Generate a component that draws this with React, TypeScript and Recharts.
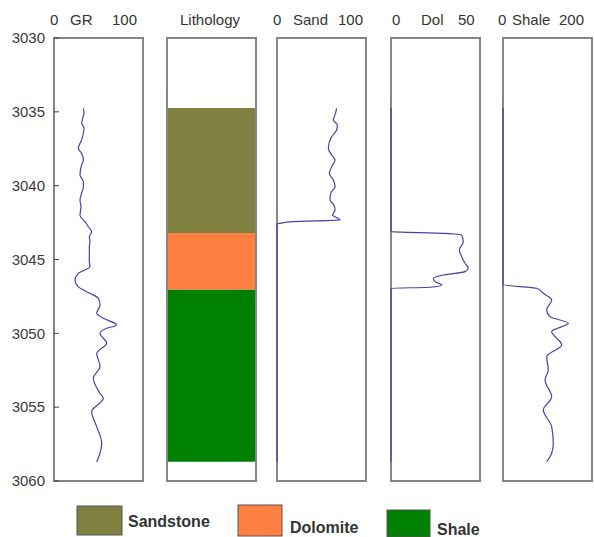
import React from 'react';
import { LineChart, Line, XAxis, YAxis, ReferenceArea } from 'recharts';

// ---- Depth axis (m) ----
const depthRange = [3030, 3060];
const depthTicks = [3030, 3035, 3040, 3045, 3050, 3055, 3060];

// ---- Gamma ray (API) ----
const grDepth = [
  3034.76, 3035.1, 3035.44, 3035.78, 3036.1, 3036.45, 3036.9, 3037.47, 3037.8, 3038.26,
  3038.6, 3039.28, 3039.73, 3040.07, 3040.52, 3040.97, 3041.42, 3042.0, 3042.44, 3042.78,
  3043.12, 3043.46, 3043.8, 3044.13, 3045.15, 3045.49, 3045.71, 3045.94, 3046.39, 3046.84,
  3047.29, 3047.63, 3048.08, 3048.64, 3048.98, 3049.43, 3049.66, 3050.0, 3050.67, 3051.35,
  3052.25, 3053.04, 3054.06, 3054.4, 3055.3, 3056.32, 3057.45, 3058.12, 3058.69,
];
const grValue = [
  33, 33.7, 32.2, 31.1, 33.7, 33, 31, 27.3, 31, 33,
  31, 29.2, 33, 33, 31, 29.2, 30.3, 29.2, 34.8, 38.6,
  42.3, 39.7, 40.4, 39.7, 39.7, 40.4, 34.8, 27.3, 23.6, 27,
  40.4, 49.8, 51.7, 48, 55.4, 70.4, 59.2, 51.7, 59.2, 48,
  51.7, 44.2, 51.7, 55.4, 42.3, 48, 53.6, 51.7, 48,
];

// ---- Sand volume ----
const sandDepth = [
  3034.76, 3035.21, 3035.55, 3035.89, 3036.23, 3036.68, 3037.47, 3037.92, 3038.26, 3038.71,
  3039.16, 3039.62, 3040.07, 3040.52, 3040.97, 3041.31, 3041.65, 3041.99, 3042.32, 3042.44,
  3042.55, 3042.6, 3058.7,
];
const sandValue = [
  67, 65.2, 63.3, 67.8, 67, 61.4, 57.7, 61.4, 65.2, 61.4,
  58.8, 63.3, 65.2, 60.3, 59.6, 64, 65.2, 62.5, 70.8, 18.4,
  3.4, 0, 0,
];

// ---- Dolomite volume ----
const dolDepth = [
  3034.74, 3043.12, 3043.23, 3043.34, 3043.79, 3044.36, 3044.81, 3045.25, 3045.59, 3045.82,
  3046.05, 3046.27, 3046.5, 3046.72, 3046.88, 3046.95, 3058.7,
];
const dolValue = [
  0, 0, 30.3, 39.7, 40.6, 38.4, 39.7, 41.6, 43.4, 41.6,
  29.4, 23.8, 24.7, 28.5, 21.9, 0, 0,
];

// ---- Shale volume ----
const shaleDepth = [
  3034.74, 3046.7, 3046.95, 3047.29, 3047.74, 3048.42, 3048.87, 3049.32, 3049.88, 3050.79,
  3051.58, 3052.48, 3053.16, 3054.29, 3055.19, 3056.32, 3057.45, 3058.12, 3058.69,
];
const shaleValue = [
  0, 0, 75.7, 90.6, 109.4, 98.2, 105.6, 146.8, 109.4, 131.9,
  98.2, 101.8, 94.4, 109.4, 90.6, 109.4, 113, 109.4, 98.2,
];

// ---- Lithology column ----
const lithNames = ['Sandstone', 'Dolomite', 'Shale'];
const lithTop = [3034.74, 3043.2, 3047.05];
const lithBase = [3043.2, 3047.05, 3058.7];

// ---- Track scales ----
const trackNames = ['GR', 'Lithology', 'Sand', 'Dol', 'Shale'];
const trackMax = [100, 1, 100, 50, 200];

// ---- Styling ----
const FONT = '"Liberation Sans", Arial, Helvetica, sans-serif';
const LITH_COLORS: Record<string, string> = {
  Sandstone: '#808040',
  Dolomite: '#ff8040',
  Shale: '#008000',
};
const CURVE = '#4444ae';
const FRAME = '#858585';
const BOX_TOP = 38;
const BOX_H = 443;
const BOX_W = 89;
const PAD = 3;
const PADV = 12;
const TRACK_LEFT = [54, 167, 277, 391, 503];
// header word positions: [min x, name x, max x]
const HEADER_X = [
  [50, 70, 112],
  [0, 210, 0],
  [273, 293, 338],
  [392, 421, 458],
  [498, 512, 559],
];
const LEGEND_POS = [
  { x: 77, y: 506, w: 45, h: 29, tx: 128, ty: 521 },
  { x: 238, y: 505, w: 44, h: 31, tx: 290, ty: 527 },
  { x: 387, y: 510, w: 43, h: 27, tx: 437, ty: 529 },
];

const toRows = (d: number[], v: number[]) => d.map((depth, i) => ({ depth, v: v[i] }));

type TrackProps = {
  left: number;
  max: number;
  rows: { depth: number; v?: number }[];
  depthAxis?: boolean;
  lith?: boolean;
};

function Track({ left, max, rows, depthAxis, lith }: TrackProps) {
  const chartLeft = depthAxis ? 0 : left - PAD;
  const width = depthAxis ? left + BOX_W + PAD : BOX_W + 2 * PAD;
  // the lithology column has no curve, so its axes rely on the fixed domains alone
  const fixed = !!lith;
  return (
    <div style={{ position: 'absolute', left: chartLeft, top: BOX_TOP - PADV }}>
      <LineChart
        layout="vertical"
        width={width}
        height={BOX_H + 2 * PADV}
        data={rows}
        margin={{ top: PADV, right: PAD, bottom: PADV, left: depthAxis ? 0 : PAD }}
      >
        <XAxis type="number" domain={[0, max]} hide allowDataOverflow={fixed} />
        <YAxis
          yAxisId="d"
          type="number"
          dataKey="depth"
          domain={depthRange}
          allowDataOverflow={fixed}
          hide={!depthAxis}
          width={depthAxis ? left : 0}
          ticks={depthTicks}
          interval={0}
          axisLine={false}
          tickSize={-5}
          tickMargin={14}
          tickLine={{ stroke: '#444', strokeWidth: 1 }}
          tick={{ fill: '#3a3a3a', fontSize: 15, fontFamily: FONT }}
        />
        {depthAxis && (
          <YAxis
            yAxisId="r"
            orientation="right"
            type="number"
            domain={depthRange}
            width={0}
            ticks={depthTicks}
            interval={0}
            axisLine={false}
            tickSize={-5}
            tickLine={{ stroke: '#444', strokeWidth: 1 }}
            tickFormatter={() => ''}
          />
        )}
        {lith &&
          lithNames.map((name, i) => (
            <ReferenceArea
              key={name}
              yAxisId="d"
              x1={0}
              x2={max}
              y1={lithTop[i]}
              y2={lithBase[i]}
              fill={LITH_COLORS[name]}
              fillOpacity={1}
              stroke="none"
              ifOverflow="visible"
            />
          ))}
        <ReferenceArea
          yAxisId="d"
          x1={0}
          x2={max}
          y1={depthRange[0]}
          y2={depthRange[1]}
          fill="none"
          stroke={FRAME}
          strokeWidth={2}
          ifOverflow="visible"
        />
        {!lith && (
          <Line
            yAxisId="d"
            dataKey="v"
            type="monotone"
            stroke={CURVE}
            strokeWidth={1.2}
            dot={false}
            activeDot={false}
            isAnimationActive={false}
          />
        )}
      </LineChart>
    </div>
  );
}

export default function App() {
  const curveRows = [
    toRows(grDepth, grValue),
    lithTop.map((depth) => ({ depth })),
    toRows(sandDepth, sandValue),
    toRows(dolDepth, dolValue),
    toRows(shaleDepth, shaleValue),
  ];
  return (
    <div style={{ position: 'absolute', left: 0, top: 0, width: 594, height: 537, background: '#fff', overflow: 'hidden' }}>
      <svg width={594} height={36} style={{ position: 'absolute', left: 0, top: 0 }}>
        {trackNames.map((name, i) =>
          i === 1 ? (
            <text key={name} x={HEADER_X[i][1]} y={25} textAnchor="middle" fontFamily={FONT} fontSize={15} fill="#333">
              {name}
            </text>
          ) : (
            <g key={name} fontFamily={FONT} fontSize={15} fill="#333">
              <text x={HEADER_X[i][0]} y={25}>0</text>
              <text x={HEADER_X[i][1]} y={25}>{name}</text>
              <text x={HEADER_X[i][2]} y={25}>{trackMax[i]}</text>
            </g>
          )
        )}
      </svg>
      {trackNames.map((name, i) => (
        <Track
          key={name}
          left={TRACK_LEFT[i]}
          max={trackMax[i]}
          rows={curveRows[i]}
          depthAxis={i === 0}
          lith={i === 1}
        />
      ))}
      <svg width={594} height={42} style={{ position: 'absolute', left: 0, top: 495 }}>
        {lithNames.map((name, i) => {
          const p = LEGEND_POS[i];
          return (
            <g key={name}>
              <rect x={p.x} y={p.y - 495} width={p.w} height={p.h} fill={LITH_COLORS[name]} stroke="#555" strokeWidth={1} />
              <text
                x={p.tx}
                y={p.ty - 495}
                dominantBaseline="central"
                fontFamily={FONT}
                fontSize={16}
                fontWeight="bold"
                fill="#333"
              >
                {name}
              </text>
            </g>
          );
        })}
      </svg>
    </div>
  );
}
